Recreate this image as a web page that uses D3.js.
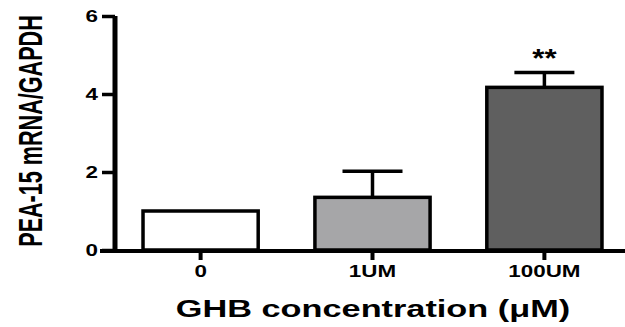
<html>
<head>
<script src="https://d3js.org/d3.v7.min.js"></script>
<style>
  body { margin: 0; background: #fff; }
  text { font-family: "Liberation Sans", Arial, sans-serif; font-weight: bold; }
</style>
</head>
<body>
<svg width=625 height=327></svg>
<script>
const groups = ['0', '1UM', '100UM'];
const means = [1.0, 1.35, 4.17];
const errors = [0, 0.67, 0.38];
const fills = ['#ffffff', '#a6a6a8', '#5f5f5f'];
const marks = ['', '', '**'];
const yTicks = [0, 2, 4, 6];

const svg = d3.select('svg');
const stretch = 1.4; // the original figure is widened horizontally

let x = d3.scaleBand()
  .domain(groups)
  .range([115, 630])
  .paddingInner(0.33)
  .paddingOuter(0.163);

let y = d3.scaleLinear()
  .domain([0, 6])
  .range([250, 16]);

// bars
svg.selectAll('rect.bar')
  .data(groups)
  .join('rect')
  .attr('class', 'bar')
  .attr('x', d => x(d))
  .attr('y', (d, i) => y(means[i]))
  .attr('width', x.bandwidth())
  .attr('height', (d, i) => y(0) - y(means[i]))
  .attr('fill', (d, i) => fills[i])
  .attr('stroke', '#000')
  .attr('stroke-width', 3.5);

// error bars (upper only)
let eb = svg.append('g').attr('stroke', '#000').attr('stroke-width', 3.5);
groups.forEach((g, i) => {
  if (!errors[i]) return;
  let cx = x(g) + x.bandwidth() / 2;
  eb.append('line')
    .attr('x1', cx).attr('x2', cx)
    .attr('y1', y(means[i])).attr('y2', y(means[i] + errors[i]));
  eb.append('line')
    .attr('x1', cx - 30).attr('x2', cx + 30)
    .attr('y1', y(means[i] + errors[i])).attr('y2', y(means[i] + errors[i]));
});

// significance
svg.selectAll('text.sig')
  .data(groups)
  .join('text')
  .attr('class', 'sig')
  .attr('transform', (d, i) => `translate(${x(d) + x.bandwidth() / 2},${y(means[i] + errors[i]) - 6}) scale(1.2,1)`)
  .attr('text-anchor', 'middle')
  .attr('font-size', 26)
  .text((d, i) => marks[i]);

// y axis
let yAxis = svg.append('g')
  .attr('transform', 'translate(115,0)')
  .call(d3.axisLeft(y).tickValues(yTicks).tickSize(13).tickPadding(4).tickFormat(d3.format('d')));
yAxis.select('.domain').attr('d', `M0,${y(6)}V${y(0)}`).attr('stroke-width', 5);
yAxis.selectAll('.tick line').attr('stroke-width', 3.5);
yAxis.selectAll('.tick text')
  .attr('font-size', 16)
  .attr('fill', '#000')
  .attr('x', -17 / stretch)
  .attr('transform', `scale(${stretch},1)`);

// x axis
let xAxis = svg.append('g')
  .attr('transform', 'translate(0,251)')
  .call(d3.axisBottom(x).tickSize(9).tickPadding(6));
xAxis.select('.domain').attr('d', 'M100,0H625').attr('stroke-width', 4);
xAxis.selectAll('.tick line').attr('stroke-width', 4);
xAxis.selectAll('.tick text')
  .attr('font-size', 16)
  .attr('fill', '#000')
  .attr('transform', `scale(${stretch},1)`);

// axis titles
svg.append('text')
  .attr('transform', `translate(42,131) scale(${stretch},0.9) rotate(-90)`)
  .attr('text-anchor', 'middle')
  .attr('font-size', 24)
  .text('PEA-15 mRNA/GAPDH');

svg.append('text')
  .attr('transform', `translate(373,317) scale(${stretch},1)`)
  .attr('text-anchor', 'middle')
  .attr('font-size', 24.5)
  .text('GHB concentration (\u03bcM)');
</script>
</body>
</html>
